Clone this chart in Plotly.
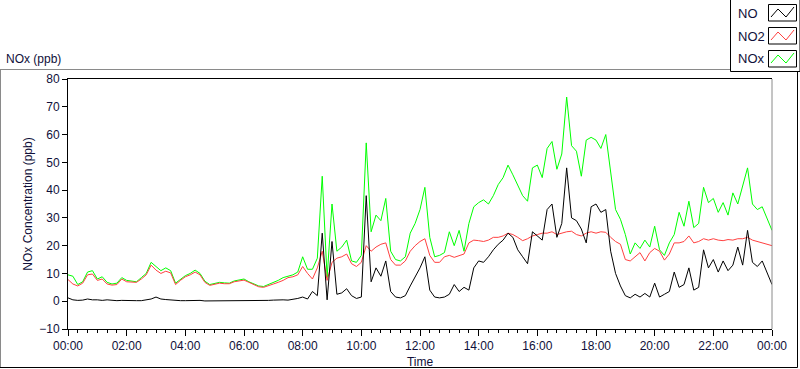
import pandas as pd
import plotly.graph_objects as go

# ---- data (10-minute readings, 00:00 .. 24:00) ----
start_time = "2000-01-01 00:00"
step = "10min"

no_ppb = [
    1.2, 0.5, 0.3, 0.4, 0.8, 0.5,
    0.5, 0.3, 0.5, 0.3, 0.2, 0.3,
    0.2, 0.3, 0.2, 0.2, 0.4, 0.8,
    1.5, 0.8, 0.6, 0.4, 0.3, 0.2,
    0.2, 0.2, 0.4, 0.3, 0.1, 0.1,
    0.1, 0.2, 0.1, 0.1, 0.2, 0.3,
    0.3, 0.1, 0.2, 0.3, 0.2, 0.3,
    0.4, 0.5, 0.5, 0.4, 0.6, 1.0,
    1.5, 0.8, 3.5, 2.0, 24.5, 0.5,
    21.5, 2.5, 3.0, 4.5, 2.0, 1.0,
    1.5, 38.0, 7.0, 12.0, 9.0, 14.5,
    3.5, 1.5, 1.2, 2.0, 5.5, 8.5,
    12.0, 16.0, 4.0, 1.5, 1.2, 1.5,
    2.5, 6.0, 3.5, 5.0, 4.0, 12.0,
    14.5, 14.0, 16.0, 18.5, 20.5, 22.0,
    24.5, 23.0, 18.5, 16.0, 13.5, 25.0,
    23.5, 22.0, 33.0, 35.0, 23.0, 28.0,
    48.0, 30.0, 29.0, 26.0, 21.0, 34.0,
    35.0, 32.0, 33.0, 18.0, 10.0, 5.5,
    2.0, 1.2, 2.5, 1.5, 2.8, 1.5,
    6.5, 1.5, 2.5, 3.5, 10.5, 5.0,
    6.0, 12.0, 4.0, 5.0, 18.5, 12.0,
    15.0, 10.5, 14.5, 11.0, 13.0, 19.5,
    13.0, 25.5, 14.0, 12.5, 14.5, 10.0,
    6.0,
]

no2_ppb = [
    7.8, 6.2, 5.5, 6.5, 9.5, 9.8,
    7.5, 8.0, 6.2, 5.8, 6.0, 8.0,
    7.0, 6.8, 6.8, 8.0, 9.5, 13.0,
    11.2, 10.0, 10.8, 10.2, 6.0, 7.5,
    8.8, 9.5, 10.5, 9.5, 6.8, 5.7,
    6.0, 6.5, 6.3, 6.3, 7.0, 7.3,
    7.6, 6.8, 6.0, 5.2, 5.0, 5.5,
    6.2, 6.8, 7.5, 8.5, 8.8, 9.5,
    12.5, 10.0, 8.0, 12.0, 18.0, 7.5,
    14.0, 15.5, 16.0, 17.0, 13.5, 12.5,
    14.0, 20.0, 18.0, 19.5, 20.5, 21.0,
    15.0, 13.0, 13.0, 14.5, 18.0, 20.0,
    21.5, 22.5, 16.5, 14.0, 14.0, 16.0,
    16.5, 15.8, 16.5, 17.0, 21.0, 22.0,
    21.8, 21.5, 22.0, 23.0, 23.0, 23.5,
    24.5, 24.0, 23.0, 21.8, 22.5, 23.5,
    24.0, 24.5, 24.5, 25.0, 24.0, 24.5,
    25.0, 25.2, 24.0, 23.5, 24.5, 25.0,
    24.5, 25.0, 24.8, 23.0, 21.5, 20.5,
    15.0, 14.5, 16.0, 17.5, 14.5, 17.5,
    19.0, 18.0, 14.8, 17.0, 21.0, 21.0,
    21.5, 23.5, 21.0, 21.5, 22.5, 22.0,
    22.5, 22.0, 21.8, 22.2, 22.0, 22.5,
    22.5, 23.0, 22.0, 21.5, 21.0, 20.3,
    20.0,
]

nox_ppb = [
    9.5, 9.0, 6.0, 7.0, 10.5, 11.0,
    8.0, 8.8, 6.8, 6.2, 6.5, 8.5,
    7.5, 7.2, 7.0, 8.5, 10.0, 14.0,
    12.5, 11.0, 12.0, 11.0, 6.5, 8.0,
    9.2, 10.0, 11.2, 10.0, 7.2, 6.0,
    6.3, 6.8, 6.6, 6.5, 7.3, 7.7,
    8.0, 7.0, 6.2, 5.5, 5.3, 6.0,
    6.8, 7.5, 8.5, 9.0, 9.5, 10.5,
    16.0, 11.5, 11.5, 15.5, 45.0, 8.5,
    35.0, 18.0, 19.5, 22.0, 14.5, 14.0,
    16.5, 57.0, 25.0, 31.0, 29.0, 37.0,
    18.0, 15.0, 14.5, 16.0, 24.5, 28.0,
    33.0, 41.0, 23.0, 16.0, 16.5, 17.5,
    25.0, 20.0, 25.5, 18.0, 28.0, 34.0,
    35.5, 36.5, 35.0, 38.0, 42.0, 44.5,
    49.0, 45.5, 42.0, 38.0, 36.0, 48.0,
    49.0, 44.5, 55.0, 57.5, 47.5, 53.0,
    73.5, 56.0, 54.0, 45.0, 58.0, 59.0,
    58.0, 55.0, 60.0, 47.0, 33.0, 29.5,
    24.0, 17.0, 21.0, 19.0, 22.0, 19.5,
    27.0, 18.5, 16.5, 21.0, 24.0, 32.0,
    27.0, 36.0, 26.5, 28.0, 41.0, 35.5,
    37.0, 32.0, 35.5, 31.0, 39.0, 35.0,
    42.0, 48.0, 35.0, 33.0, 34.0, 30.0,
    25.5,
]

series_names = ["NO", "NO2", "NOx"]
y_ticks = [-10, 0, 10, 20, 30, 40, 50, 60, 70, 80]

times = pd.date_range(start_time, periods=len(no_ppb), freq=step)

# ---- styling ----
W, H = 800, 369
ML, MR, MT, MB = 68, 28, 79, 40
PW, PH = W - ML - MR, H - MT - MB
FONT = "Liberation Sans, Arial, sans-serif"
TXT = "#10103a"
colors = {"NO": "#000000", "NO2": "#ff4040", "NOx": "#00ff00"}


def px(xp):
    return (xp - ML) / PW


def py(yp):
    return (H - MB - yp) / PH


fig = go.Figure()
for name, vals in [("NOx", nox_ppb), ("NO2", no2_ppb), ("NO", no_ppb)]:
    fig.add_trace(go.Scatter(x=times, y=vals, mode="lines", name=name,
                             line=dict(color=colors[name], width=1),
                             showlegend=False, hoverinfo="skip"))

shapes = []
# outer frame (LabVIEW style)
shapes.append(dict(type="line", xref="paper", yref="paper", x0=px(0), x1=px(730),
                   y0=py(69.5), y1=py(69.5), line=dict(color="#8a8a8a", width=1)))
shapes.append(dict(type="line", xref="paper", yref="paper", x0=px(0.5), x1=px(0.5),
                   y0=py(69.5), y1=py(367.5), line=dict(color="#8a8a8a", width=1)))
shapes.append(dict(type="line", xref="paper", yref="paper", x0=px(0), x1=px(797.5),
                   y0=py(367.5), y1=py(367.5), line=dict(color="#000000", width=1)))
shapes.append(dict(type="line", xref="paper", yref="paper", x0=px(797.5), x1=px(797.5),
                   y0=py(72), y1=py(367.5), line=dict(color="#000000", width=1)))
# plot frame right side (gray)
shapes.append(dict(type="line", xref="paper", yref="paper", x0=1, x1=1,
                   y0=0, y1=1, line=dict(color="#8a8a8a", width=1)))
# legend box
shapes.append(dict(type="rect", xref="paper", yref="paper", x0=px(730.5), x1=px(800),
                   y0=py(71.5), y1=py(-1), line=dict(color="#000000", width=1),
                   fillcolor="white", layer="above"))
annotations = []
leg_rows = [13, 36, 59]
for name, yc in zip(series_names, leg_rows):
    shapes.append(dict(type="rect", xref="paper", yref="paper",
                       x0=px(768.5), x1=px(796.5), y0=py(yc + 8), y1=py(yc - 8.5),
                       line=dict(color="#000000", width=1), fillcolor="white", layer="above"))
    pts = [(771, yc + 4), (778, yc - 4), (786, yc + 4), (794, yc - 6)]
    path = "M " + " L ".join(f"{px(a):.5f},{py(b):.5f}" for a, b in pts)
    shapes.append(dict(type="path", xref="paper", yref="paper", path=path,
                       line=dict(color=colors[name], width=1), layer="above"))
    annotations.append(dict(text=name, xref="paper", yref="paper", x=px(736), y=py(yc),
                            xanchor="left", yanchor="middle", showarrow=False,
                            font=dict(family=FONT, size=13, color=TXT)))

annotations.append(dict(text="NOx (ppb)", xref="paper", yref="paper", x=px(4), y=py(59),
                        xanchor="left", yanchor="middle", showarrow=False,
                        font=dict(family=FONT, size=12, color=TXT)))

fig.update_layout(
    width=W, height=H,
    margin=dict(l=ML, r=MR, t=MT, b=MB, pad=0),
    paper_bgcolor="white", plot_bgcolor="white",
    font=dict(family=FONT, size=12, color=TXT),
    shapes=shapes, annotations=annotations,
    xaxis=dict(
        type="date", automargin=False,
        range=[times[0], times[-1]],
        tickformat="%H:%M", dtick=7200000, tick0=times[0],
        ticks="outside", ticklen=6, tickcolor="#000000", tickwidth=1,
        ticklabelstandoff=0,
        minor=dict(dtick=1200000, ticks="outside", ticklen=3, tickcolor="#000000", tickwidth=1),
        showline=True, linecolor="#000000", linewidth=1, mirror=True,
        showgrid=False, zeroline=False,
        tickfont=dict(family=FONT, size=12, color=TXT),
        title=dict(text="Time", font=dict(family=FONT, size=12, color=TXT), standoff=7),
    ),
    yaxis=dict(
        automargin=False,
        range=[-10, 80], tickvals=y_ticks,
        ticks="outside", ticklen=5, tickcolor="#000000", tickwidth=1,
        showline=True, linecolor="#000000", linewidth=1,
        showgrid=False, zeroline=False,
        tickfont=dict(family=FONT, size=12, color=TXT),
        title=dict(text="NOx Concentration (ppb)", font=dict(family=FONT, size=12, color=TXT), standoff=4),
    ),
)

fig.write_html(
    "out.html",
    config={"displayModeBar": False, "staticPlot": True},
    post_script="document.body.style.margin='0px';document.body.style.overflow='hidden';",
)
